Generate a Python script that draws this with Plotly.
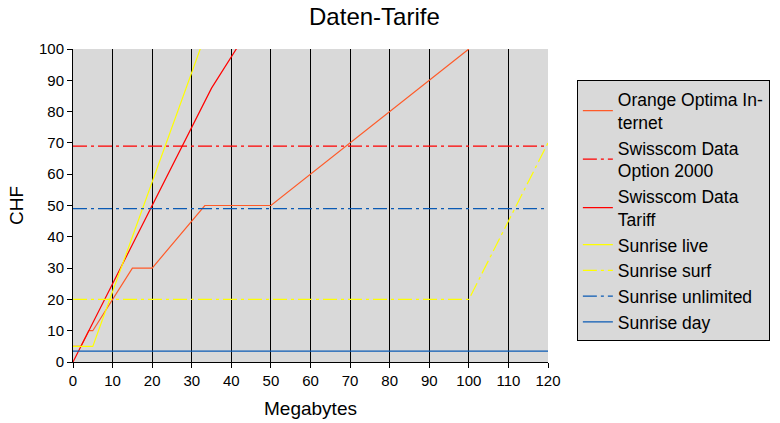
import plotly.graph_objects as go

# values
orange_x = [0, 2, 4, 5, 15, 20, 33.3, 50, 100]
orange_y = [5, 5, 10, 10, 30, 30, 50, 50, 100]

option2000_x = [0, 120]
option2000_y = [69, 69]

tariff_x = [0, 35, 50]
tariff_y = [0, 87.5, 117.5]

live_x = [0, 5, 40]
live_y = [5, 5, 127.5]

surf_x = [0, 100, 120]
surf_y = [20, 20, 70]

unlimited_x = [0, 120]
unlimited_y = [49, 49]

day_x = [0, 120]
day_y = [3.5, 3.5]

x_ticks = list(range(0, 121, 10))
y_ticks = list(range(0, 101, 10))

dashdot = "14px,4px,3px,4px"

series = [
    ("Orange Optima In-<br>ternet", orange_x, orange_y, "#FF5A28", "solid"),
    ("Swisscom Data<br>Option 2000", option2000_x, option2000_y, "#FF0000", dashdot),
    ("Swisscom Data<br>Tariff", tariff_x, tariff_y, "#FF0000", "solid"),
    ("Sunrise live", live_x, live_y, "#FFFF00", "solid"),
    ("Sunrise surf", surf_x, surf_y, "#FFFF00", dashdot),
    ("Sunrise unlimited", unlimited_x, unlimited_y, "#0A5AB4", dashdot),
    ("Sunrise day", day_x, day_y, "#0A5AB4", "solid"),
]

fig = go.Figure()
for name, xs, ys, color, dash in series:
    fig.add_trace(go.Scatter(x=xs, y=ys, name=name, mode='lines',
                             line=dict(color=color, width=1.2, dash=dash)))

fig.update_layout(
    width=780, height=423,
    margin=dict(l=73, r=231, t=49, b=61),
    paper_bgcolor='white', plot_bgcolor='#D9D9D9',
    font=dict(family='Liberation Sans, Arial', color='black', size=15),
    title=dict(text='Daten-Tarife', x=0.48, xanchor='center', y=0.96, yanchor='middle',
               font=dict(size=24)),
    # anchored on its right edge so it stays inside the page and doesn't push the margin
    legend=dict(x=1.464, y=0.9, xanchor='right', yanchor='top',
                bgcolor='#D9D9D9', bordercolor='black', borderwidth=1,
                font=dict(size=17.5)),
)
fig.update_xaxes(range=[0, 120], tickvals=x_ticks, showgrid=True, gridcolor='black', gridwidth=1,
                 showline=True, linecolor='black', ticks='outside', ticklen=5, tickcolor='black',
                 zeroline=False, automargin=False,
                 title=dict(text='Megabytes', font=dict(size=19), standoff=13))
fig.update_yaxes(range=[0, 100], tickvals=y_ticks, showgrid=False,
                 showline=True, linecolor='black', ticks='outside', ticklen=5, tickcolor='black',
                 zeroline=False, automargin=False,
                 title=dict(text='CHF', font=dict(size=19), standoff=10))

# drop the browser's default 8px body margin so the figure sits at the page corner
fig.write_html("out.html", config={'displayModeBar': False},
               post_script="document.body.style.margin='0';")
